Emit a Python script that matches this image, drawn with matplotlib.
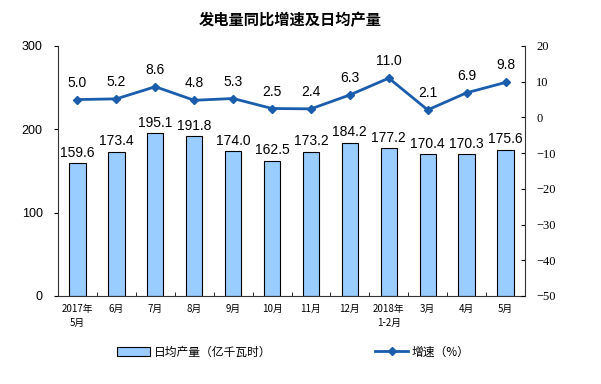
import matplotlib
matplotlib.use("Agg")
import matplotlib.pyplot as plt
from matplotlib.lines import Line2D
from matplotlib.patches import Patch
import numpy as np

plt.rcParams['font.family'] = ['Liberation Sans', 'Noto Sans CJK SC', 'DejaVu Sans']

categories = ["2017年\n5月", "6月", "7月", "8月", "9月", "10月", "11月", "12月",
              "2018年\n1-2月", "3月", "4月", "5月"]
daily_output = [159.6, 173.4, 195.1, 191.8, 174.0, 162.5, 173.2, 184.2, 177.2, 170.4, 170.3, 175.6]
growth = [5.0, 5.2, 8.6, 4.8, 5.3, 2.5, 2.4, 6.3, 11.0, 2.1, 6.9, 9.8]

bar_color = "#99CCFF"
line_color = "#1A5DAD"
cjk = ['Noto Sans CJK SC', 'DejaVu Sans']

fig = plt.figure(figsize=(6.01, 3.84), dpi=100)
ax = fig.add_axes([58/601, 1-296/384, (525-58)/601, 250/384])
x = np.arange(len(categories))
ax.bar(x, daily_output, width=0.42, color=bar_color, edgecolor="black", linewidth=0.8, zorder=2)
ax.set_xlim(-0.5, len(categories)-0.5)
ax.set_ylim(0, 300)
ax.set_yticks([0, 100, 200, 300])
ax.tick_params(axis='y', direction='out', length=3, labelsize=9, pad=8)
ax.set_xticks(x)
ax.set_xticklabels(categories, fontsize=7, family=cjk, linespacing=1.5)
ax.tick_params(axis='x', length=0, pad=6)
ax.set_xticks(np.arange(len(categories)+1)-0.5, minor=True)
ax.tick_params(axis='x', which='minor', length=3, direction='in')
for s in ['top', 'right']:
    ax.spines[s].set_visible(False)
ax.spines['left'].set_color('#333333')
ax.spines['bottom'].set_color('#333333')
for xi, v in zip(x, daily_output):
    ax.text(xi, v + 4, f"{v:.1f}", ha='center', va='bottom', fontsize=10)

ax2 = ax.twinx()
ax2.plot(x, growth, color=line_color, linewidth=2, marker='D', markersize=4.5, zorder=3)
ax2.set_ylim(-50, 20)
ax2.set_yticks(np.arange(-50, 21, 10))
ax2.tick_params(axis='y', direction='in', length=3, labelsize=9, pad=8)
for lab in ax2.get_yticklabels():
    lab.set_family('Liberation Serif')
for s in ['top', 'left', 'bottom']:
    ax2.spines[s].set_visible(False)
ax2.spines['right'].set_color('#333333')
for xi, v in zip(x, growth):
    ax2.text(xi, v + 2.8, f"{v:.1f}", ha='center', va='bottom', fontsize=10)

fig.text(290/601, 1-20/384, "发电量同比增速及日均产量", ha='center', va='center',
         fontsize=11, fontweight='bold', family=cjk)

handles = [Patch(facecolor=bar_color, edgecolor='black', linewidth=0.8),
           Line2D([0], [0], color=line_color, linewidth=2, marker='D', markersize=4.5)]
leg = fig.legend(handles, ["日均产量（亿千瓦时）", "增速（%）"], loc='center',
                 bbox_to_anchor=(0.488, 1-352/384), ncol=2, frameon=False,
                 prop={'family': cjk, 'size': 8.5}, columnspacing=8.8, handlelength=2.8,
                 handletextpad=0.3)

fig.savefig("out.png", dpi=100)
